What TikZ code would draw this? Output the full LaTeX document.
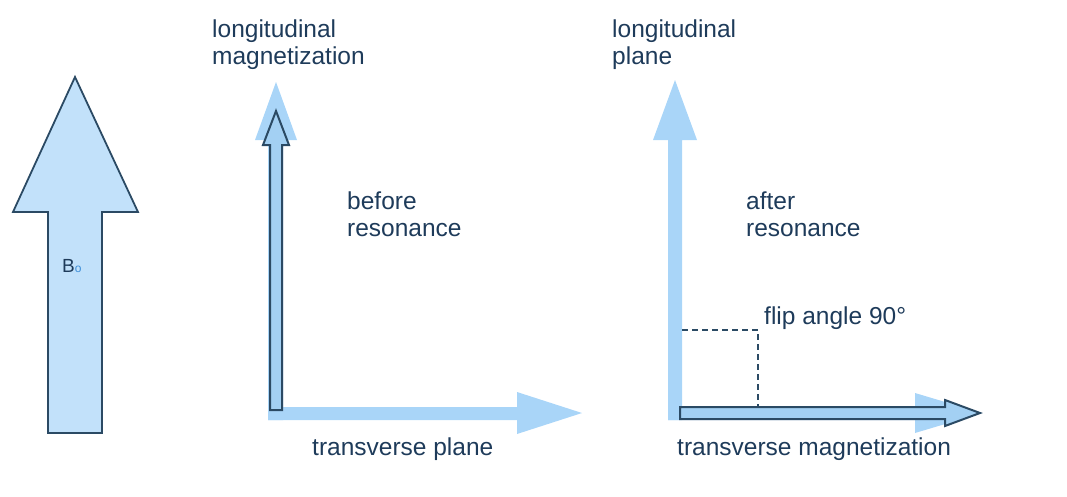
\documentclass[tikz,border=0pt]{standalone}
\usepackage{fontspec}
\setmainfont{Liberation Sans}
\definecolor{axblue}{HTML}{A9D5F8}
\definecolor{bigfill}{HTML}{C2E1FA}
\definecolor{magfill}{HTML}{A3D0F3}
\definecolor{darkline}{HTML}{2B4A64}
\definecolor{txt}{HTML}{1E3B5A}
\definecolor{subblue}{HTML}{3F8FD8}
\tikzset{
  lightax/.style={fill=axblue, draw=none},
  magarrow/.style={fill=magfill, draw=darkline, line width=2pt, line join=miter},
  bigarrow/.style={fill=bigfill, draw=darkline, line width=1.8pt, line join=miter},
  lbl/.style={text=txt, font=\fontsize{24.5}{26.5}\selectfont, inner sep=0pt, align=left},
  flip/.style={draw=darkline, line width=1.6pt, dash pattern=on 6pt off 4pt},
}
\begin{document}
\begin{tikzpicture}[x=1pt,y=-1pt]
\useasboundingbox (0,0) rectangle (1067,496);
% B0 arrow
\draw[bigarrow] (48,433) -- (48,212) -- (13,212) -- (75,77) -- (138,212) -- (102,212) -- (102,433) -- cycle;
\node[text=txt, inner sep=0pt, anchor=base west, font=\fontsize{19}{19}\selectfont] (b0) at (62,272) {B\textcolor{subblue}{\fontsize{12}{12}\selectfont o}};
% middle: light axes
\fill[lightax] (268,420) -- (268,140) -- (255,140) -- (276,82) -- (297,140) -- (283,140) -- (283,420) -- cycle;
\fill[lightax] (268,407) -- (517,407) -- (517,392) -- (582,413) -- (517,434) -- (517,420) -- (268,420) -- cycle;
% middle: longitudinal magnetization arrow
\draw[magarrow] (270,410) -- (270,145) -- (263,145) -- (276,111) -- (289,145) -- (282,145) -- (282,410) -- cycle;
% right: light axes
\fill[lightax] (668,420) -- (668,140) -- (653,140) -- (675,80) -- (697,140) -- (682,140) -- (682,420) -- cycle;
\fill[lightax] (668,407) -- (915,407) -- (915,393) -- (982,413) -- (915,433) -- (915,420) -- (668,420) -- cycle;
% flip angle
\coordinate (fa) at (682,330);
\coordinate (fb) at (758,330);
\coordinate (fc) at (758,407);
\draw[flip] (fa) -- (fb) -- (fc);
% right: transverse magnetization arrow
\draw[magarrow] (680,407) -- (945,407) -- (945,400) -- (980,413) -- (945,426) -- (945,419) -- (680,419) -- cycle;
% labels
\node[lbl, anchor=north west] (lm) at (212,20) {longitudinal\\magnetization};
\node[lbl, anchor=north west] (br) at (347,192) {before\\resonance};
\node[lbl, anchor=base west] (tp) at (312,455) {transverse plane};
\node[lbl, anchor=north west] (lp) at (612,20) {longitudinal\\plane};
\node[lbl, anchor=north west] (ar) at (746,192) {after\\resonance};
\node[lbl, anchor=base west] (fl) at (764,324) {flip angle 90°};
\node[lbl, anchor=base west] (tm) at (677,455) {transverse magnetization};
\end{tikzpicture}
\end{document}
